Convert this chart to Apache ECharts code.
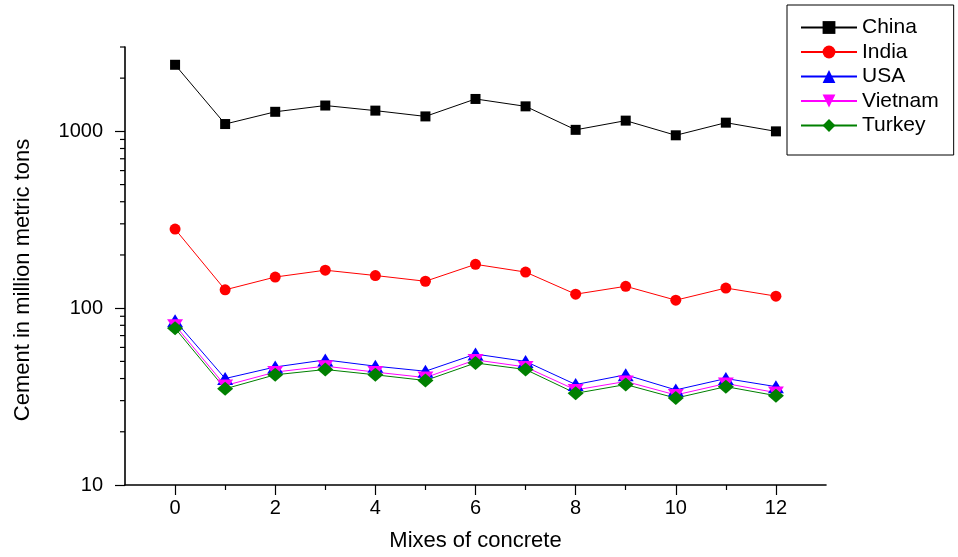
<!DOCTYPE html>
<html>
<head>
<meta charset="utf-8">
<script src="https://cdn.jsdelivr.net/npm/echarts@6/dist/echarts.min.js"></script>
<style>
  html, body { margin: 0; padding: 0; background: #fff; }
  #chart { width: 958px; height: 557px; }
</style>
</head>
<body>
<div id="chart"></div>
<script>
// ---- data ----
const mixes = [0, 1, 2, 3, 4, 5, 6, 7, 8, 9, 10, 11, 12];
const china   = [2380, 1100, 1290, 1400, 1310, 1215, 1525, 1385, 1020, 1150, 950, 1120, 1000];
const india   = [280, 127, 150, 164, 153, 142, 177, 160, 120, 133, 111, 130, 117];
const usa     = [85, 40, 46.5, 51, 47, 44, 55, 50, 37, 42, 34.5, 40, 36];
const vietnam = [80, 36.5, 43.5, 47, 43.5, 40.5, 51, 46.5, 34.5, 38.5, 32.3, 37.5, 33.3];
const turkey  = [77, 35, 42, 45, 42, 39, 49, 45, 33, 37, 31, 36, 32];
const seriesNames = ['China', 'India', 'USA', 'Vietnam', 'Turkey'];
const xMajorTicks = [0, 2, 4, 6, 8, 10, 12];
const xMinorTicks = [1, 3, 5, 7, 9, 11];
const yMinorTicks = [20, 30, 40, 50, 60, 70, 80, 90, 200, 300, 400, 500, 600, 700, 800, 900, 2000, 3000];

const FONT = '"Liberation Sans", Arial, sans-serif';
const pair = arr => arr.map((v, i) => [mixes[i], v]);

function lineSeries(name, data, color, symbol, size) {
  return {
    name: name, type: 'line', data: pair(data),
    symbol: symbol, symbolSize: size,
    lineStyle: { color: color, width: 1 },
    itemStyle: { color: color },
    xAxisIndex: 0, yAxisIndex: 0,
    z: 3
  };
}

const chart = echarts.init(document.getElementById('chart'), null, { renderer: 'canvas' });
chart.setOption({
  animation: false,
  backgroundColor: '#fff',
  textStyle: { fontFamily: FONT },
  grid: { left: 125, top: 47, right: 132, bottom: 72, containLabel: false },
  legend: {
    data: seriesNames,
    orient: 'vertical',
    left: 787, top: 5,
    padding: [12, 15, 19, 13],
    borderColor: '#000', borderWidth: 1,
    itemWidth: 56, itemHeight: 16, itemGap: 3.5,
    textStyle: { fontFamily: FONT, fontSize: 21, color: '#000', lineHeight: 20 }
  },
  xAxis: [{
    type: 'value', min: -1, max: 13, interval: 1, position: 'bottom',
    name: 'Mixes of concrete', nameLocation: 'middle', nameGap: 45,
    nameTextStyle: { fontFamily: FONT, fontSize: 22, color: '#000' },
    axisLine: { onZero: false, lineStyle: { color: '#000', width: 1.6 } },
    axisTick: { customValues: xMajorTicks, length: 10, inside: false, lineStyle: { color: '#000', width: 1.2 } },
    axisLabel: { customValues: xMajorTicks, margin: 13, fontFamily: FONT, fontSize: 20, color: '#000' },
    splitLine: { show: false }
  }, {
    type: 'value', min: -1, max: 13, interval: 1, position: 'bottom',
    axisLine: { show: false, onZero: false },
    axisTick: { customValues: xMinorTicks, length: 5, inside: false, lineStyle: { color: '#000', width: 1.2 } },
    axisLabel: { show: false },
    splitLine: { show: false }
  }],
  yAxis: [{
    type: 'log', logBase: 10, min: 10, max: 3000, position: 'left',
    name: 'Cement in million metric tons', nameLocation: 'middle', nameGap: 91, nameRotate: 90,
    nameTextStyle: { fontFamily: FONT, fontSize: 22, color: '#000', padding: [0, 28, 0, 0] },
    axisLine: { show: true, onZero: false, lineStyle: { color: '#000', width: 1.6 } },
    axisTick: { show: true, length: 10, inside: false, lineStyle: { color: '#000', width: 1.2 } },
    axisLabel: { margin: 22, fontFamily: FONT, fontSize: 20, color: '#000', showMaxLabel: false,
                 formatter: v => String(Math.round(v)) },
    splitLine: { show: false },
    minorTick: { show: false }
  }],
  series: [
    lineSeries('China', china, '#000000', 'rect', [10, 10]),
    lineSeries('India', india, '#ff0000', 'circle', 11),
    lineSeries('USA', usa, '#0000ff', 'triangle', [16, 13]),
    lineSeries('Vietnam', vietnam, '#ff00ff', 'path://M0,0 L10,0 L5,8 Z', [16, 12]),
    lineSeries('Turkey', turkey, '#008000', 'diamond', [16, 14]),
    {
      name: 'yMinorTicks', type: 'custom', xAxisIndex: 0, yAxisIndex: 0,
      data: yMinorTicks.map(v => [-1, v]),
      encode: { x: 0, y: 1 },
      clip: false, silent: true, z: 5,
      renderItem: function (params, api) {
        const p = api.coord([api.value(0), api.value(1)]);
        return {
          type: 'line',
          shape: { x1: p[0] - 5, y1: p[1], x2: p[0], y2: p[1] },
          style: { stroke: '#000', lineWidth: 1.2 }
        };
      }
    }
  ]
});
</script>
</body>
</html>
